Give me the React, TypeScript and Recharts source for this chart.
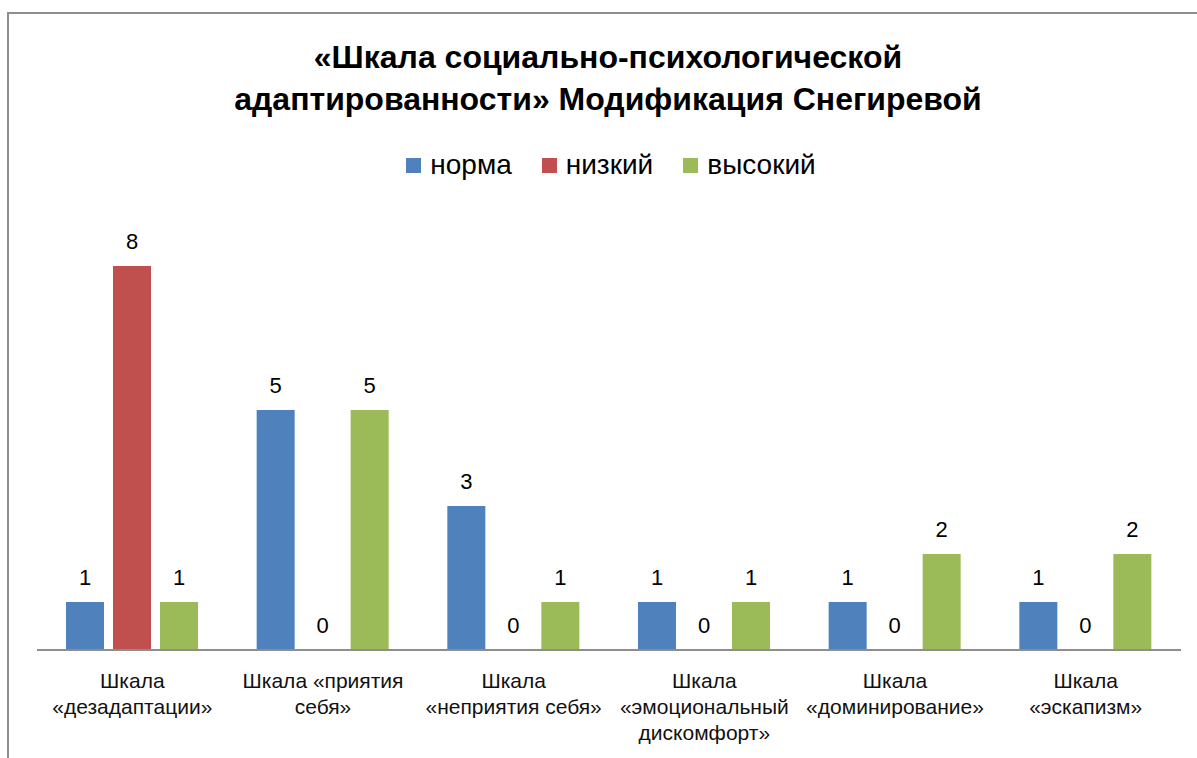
import { BarChart, Bar, XAxis, YAxis, LabelList } from 'recharts';

const titleLines = ['«Шкала социально-психологической', 'адаптированности» Модификация Снегиревой'];

const categories = [
  'Шкала\n«дезадаптации»',
  'Шкала «приятия\nсебя»',
  'Шкала\n«неприятия себя»',
  'Шкала\n«эмоциональный\nдискомфорт»',
  'Шкала\n«доминирование»',
  'Шкала\n«эскапизм»',
];

const norma = [1, 5, 3, 1, 1, 1];
const nizkiy = [8, 0, 0, 0, 0, 0];
const vysokiy = [1, 5, 1, 1, 2, 2];

const seriesKeys = ['norma', 'nizkiy', 'vysokiy'];
const seriesNames = ['норма', 'низкий', 'высокий'];
const seriesColors = ['#4F81BD', '#C0504D', '#9BBB59'];

const data = categories.map((name, i) => ({
  name,
  norma: norma[i],
  nizkiy: nizkiy[i],
  vysokiy: vysokiy[i],
}));

// no serif font with Cyrillic in the sandbox, so everything is Liberation Sans
const font = '"Liberation Sans", Arial, sans-serif';

function CategoryTick({ x, y, payload }: any) {
  const lines = String(payload.value).split('\n');
  return (
    <g>
      {lines.map((line, i) => (
        <text key={i} x={x} y={y + 38 + i * 26} textAnchor="middle" fontFamily={font} fontSize={21} fill="#111">
          {line}
        </text>
      ))}
    </g>
  );
}

export default function App() {
  return (
    <div style={{ position: 'absolute', left: 0, top: 0, width: 1197, height: 758, background: '#fff', overflow: 'hidden' }}>
      <div
        style={{
          position: 'absolute', left: 7, top: 12, width: 1190, height: 746,
          borderLeft: '2px solid #8e8e8e', borderTop: '2px solid #8e8e8e',
        }}
      />
      <div
        style={{
          position: 'absolute', left: 0, top: 36, width: 1216, textAlign: 'center',
          fontFamily: font, fontWeight: 'bold', fontSize: 32, lineHeight: '42px', color: '#000',
        }}
      >
        {titleLines.map(l => <div key={l}>{l}</div>)}
      </div>
      <div
        style={{
          position: 'absolute', left: 0, top: 147, width: 1222, display: 'flex', justifyContent: 'center',
          fontFamily: font, fontSize: 28, lineHeight: '36px', color: '#000',
        }}
      >
        {seriesNames.map((n, i) => (
          <div key={n} style={{ display: 'flex', alignItems: 'center', marginRight: i < seriesNames.length - 1 ? 30 : 0 }}>
            <span style={{ display: 'inline-block', width: 15, height: 15, background: seriesColors[i], marginRight: 9 }} />
            <span>{n}</span>
          </div>
        ))}
      </div>
      <div style={{ position: 'absolute', left: 0, top: 0 }}>
        <BarChart width={1197} height={758} data={data} margin={{ top: 218, right: 16, left: 37, bottom: 0 }} barSize={38} barGap={9}>
          <XAxis
            dataKey="name"
            interval={0}
            tickLine={false}
            tickSize={0}
            tickMargin={0}
            height={108}
            axisLine={{ stroke: '#8e8e8e', strokeWidth: 2 }}
            tick={<CategoryTick />}
          />
          <YAxis hide domain={[0, 9]} />
          {seriesKeys.map((k, i) => (
            <Bar key={k} dataKey={k} name={seriesNames[i]} fill={seriesColors[i]} minPointSize={0.01} isAnimationActive={false}>
              <LabelList dataKey={k} position="top" offset={17} fontFamily={font} fontSize={22} fill="#000" />
            </Bar>
          ))}
        </BarChart>
      </div>
    </div>
  );
}
